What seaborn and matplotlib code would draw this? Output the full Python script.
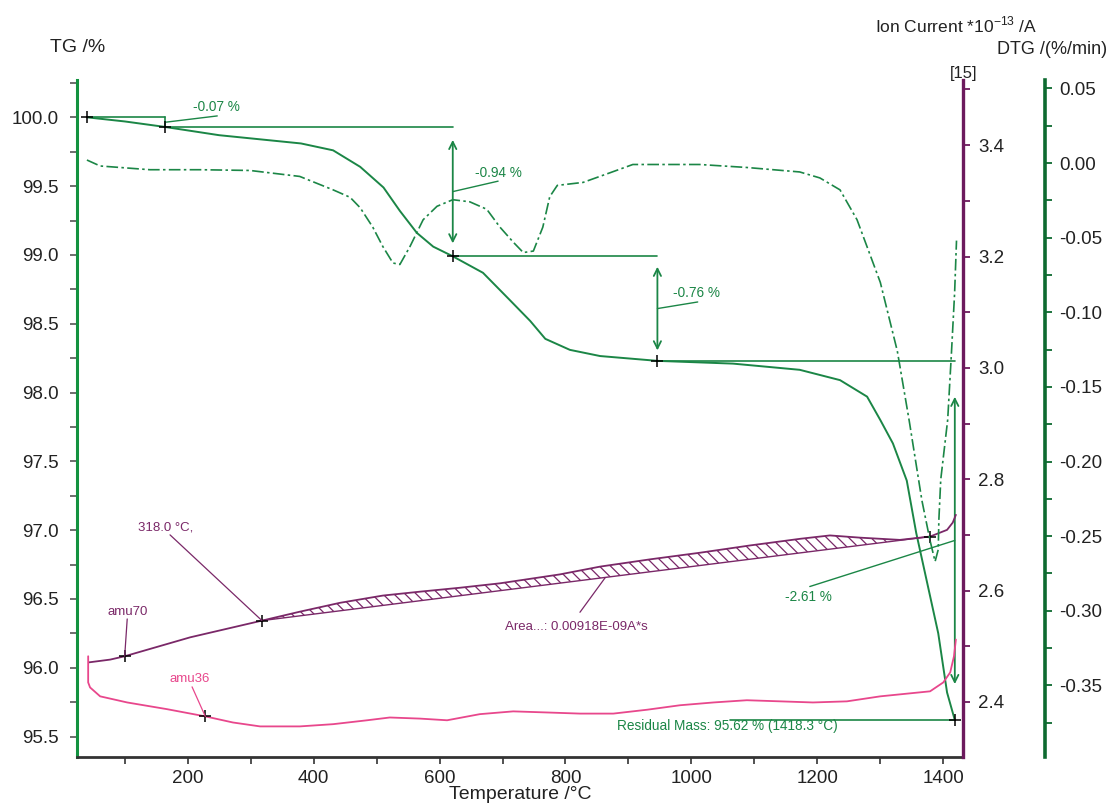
import numpy as np
import matplotlib
matplotlib.use("Agg")
import matplotlib.pyplot as plt
import seaborn as sns
from matplotlib.ticker import MultipleLocator, FormatStrFormatter

# ---- measured curves -------------------------------------------------------
# TG mass curve (%)
temp_tg = [40, 100, 164, 250, 380, 431, 474, 511, 537, 564, 590, 621, 669, 712,
           744, 768, 807, 855, 946, 1066, 1172, 1236, 1279, 1300, 1320, 1342,
           1357, 1392, 1406, 1418.3]
tg = [100.00, 99.97, 99.93, 99.87, 99.81, 99.76, 99.64, 99.49, 99.32, 99.16,
      99.06, 98.99, 98.87, 98.67, 98.52, 98.39, 98.31, 98.265, 98.23, 98.21,
      98.165, 98.09, 97.97, 97.80, 97.63, 97.36, 96.98, 96.25, 95.82, 95.62]

# DTG curve (%/min)
temp_dtg = [40, 61, 140, 220, 299, 378, 431, 458, 474, 494, 510, 526, 537, 553,
            574, 596, 621, 648, 675, 696, 717, 733, 749, 764, 775, 787, 828,
            871, 907, 961, 1013, 1088, 1172, 1204, 1236, 1263, 1300, 1327, 1346,
            1366, 1379, 1387, 1392, 1393, 1396, 1407, 1413, 1418, 1421]
dtg = [0.002, -0.002, -0.0045, -0.0045, -0.005, -0.009, -0.018, -0.023, -0.030,
       -0.043, -0.056, -0.067, -0.068, -0.056, -0.038, -0.029, -0.0246, -0.026,
       -0.031, -0.043, -0.053, -0.060, -0.059, -0.043, -0.0226, -0.015, -0.013,
       -0.0065, -0.001, -0.001, -0.001, -0.003, -0.006, -0.010, -0.018, -0.038,
       -0.080, -0.126, -0.173, -0.226, -0.253, -0.267, -0.259, -0.239, -0.212,
       -0.172, -0.127, -0.087, -0.052]

# ion current, m/z 70 and m/z 36 (*1e-13 A)
temp_70 = [43, 77, 100, 204, 318, 378, 442, 510, 569, 632, 696, 791, 855, 934,
           1014, 1093, 1173, 1220, 1268, 1331, 1379, 1406, 1415, 1420]
amu70 = [2.471, 2.476, 2.482, 2.516, 2.546, 2.562, 2.578, 2.591, 2.598, 2.605,
         2.613, 2.629, 2.643, 2.656, 2.668, 2.681, 2.693, 2.699, 2.695, 2.691,
         2.697, 2.709, 2.722, 2.736]

temp_36 = [42, 42, 45, 61, 104, 167, 228, 272, 315, 378, 431, 485, 521, 569, 612,
           664, 717, 771, 823, 876, 930, 982, 1035, 1088, 1141, 1193, 1247, 1300,
           1379, 1400, 1411, 1417, 1420]
amu36 = [2.482, 2.435, 2.426, 2.410, 2.399, 2.387, 2.374, 2.363, 2.356, 2.356,
         2.360, 2.367, 2.372, 2.370, 2.367, 2.378, 2.383, 2.381, 2.379, 2.379,
         2.386, 2.394, 2.399, 2.403, 2.401, 2.399, 2.401, 2.410, 2.419, 2.435,
         2.453, 2.482, 2.512]

# ---- evaluation results ----------------------------------------------------
start_mass = 100.00
step_temps = [40, 164, 621, 946, 1418.3]
mass_steps = [-0.07, -0.94, -0.76, -2.61]
step_labels = ["-0.07 %", "-0.94 %", "-0.76 %", "-2.61 %"]
residual_text = "Residual Mass: 95.62 % (1418.3 °C)"
peak_area_text = "Area...: 0.00918E-09A*s"
area_limits = [318.0, 1379]
amu70_mark = 100
amu36_mark = 228

# ---- style -----------------------------------------------------------------
GREEN = "#1b8646"
GREEN_AX = "#12923f"
GREEN_DTG = "#0e6a30"
PURPLE = "#6c1a5d"
PURPLE_LINE = "#7a2868"
PINK = "#e8478c"
GREY = "#333333"

sns.set_theme(style="white")
plt.rcParams["font.family"] = ["Liberation Sans", "DejaVu Sans"]
plt.rcParams["axes.unicode_minus"] = False
plt.rcParams["mathtext.fontset"] = "custom"
plt.rcParams["mathtext.rm"] = "Liberation Sans"
plt.rcParams["hatch.linewidth"] = 0.9

fig = plt.figure(figsize=(11.09, 8.05), dpi=100)
ax = fig.add_axes([0.0694, 0.0596, 0.799, 0.841])
ax_ms = ax.twinx()
ax_dtg = ax.twinx()

# ---- curves ----------------------------------------------------------------
sns.lineplot(x=temp_tg, y=tg, ax=ax, color=GREEN, lw=1.4,
             estimator=None, sort=False)
sns.lineplot(x=temp_dtg, y=dtg, ax=ax_dtg, color=GREEN, lw=1.2,
             linestyle=(0, (7, 2, 1.5, 2)), estimator=None, sort=False)
sns.lineplot(x=temp_70, y=amu70, ax=ax_ms, color=PURPLE_LINE, lw=1.3,
             estimator=None, sort=False)
sns.lineplot(x=temp_36, y=amu36, ax=ax_ms, color=PINK, lw=1.3,
             estimator=None, sort=False)

# hatched peak area on m/z 70 above a straight baseline
t70 = np.array(temp_70, dtype=float)
a70 = np.array(amu70)
a_lo, a_hi = np.interp(area_limits, t70, a70)
sel = (t70 >= area_limits[0]) & (t70 <= area_limits[1])
xs = t70[sel]
base = np.interp(xs, area_limits, [a_lo, a_hi])
ax_ms.fill_between(xs, base, a70[sel], where=a70[sel] >= base, interpolate=True,
                   facecolor="none", edgecolor=PURPLE_LINE, hatch="\\\\\\", lw=0)
ax_ms.plot(area_limits, [a_lo, a_hi], color=PURPLE_LINE, lw=1.0)
ax_ms.plot(area_limits, [a_lo, a_hi], "+", color="black", ms=9, mew=1.1)
a_mark70 = np.interp(amu70_mark, t70, a70)
a_mark36 = np.interp(amu36_mark, temp_36[2:], amu36[2:])
ax_ms.plot([amu70_mark], [a_mark70], "+", color="black", ms=9, mew=1.1)
ax_ms.plot([amu36_mark], [a_mark36], "+", color="black", ms=9, mew=1.1)

# ion-current labels with leaders
ax_ms.text(104, 2.562, "amu70", color=PURPLE_LINE, fontsize=9.5,
           ha="center", va="center")
ax_ms.plot([104, amu70_mark], [2.549, a_mark70], color=PURPLE_LINE, lw=0.9)
ax_ms.text(121, 2.713, "318.0 °C,", color=PURPLE_LINE, fontsize=9.5,
           ha="left", va="center")
ax_ms.plot([172, area_limits[0]], [2.700, a_lo], color=PURPLE_LINE, lw=0.9)
ax_ms.text(704, 2.535, peak_area_text, color=PURPLE_LINE, fontsize=9.5,
           ha="left", va="center")
ax_ms.plot([823, 863], [2.561, 2.623], color=PURPLE_LINE, lw=0.9)
ax_ms.text(204, 2.441, "amu36", color=PINK, fontsize=9.5,
           ha="center", va="center")
ax_ms.plot([207, amu36_mark], [2.427, a_mark36], color=PINK, lw=0.9)

# ---- mass-step evaluation --------------------------------------------------
levels = start_mass + np.concatenate([[0], np.cumsum(mass_steps)])
ax.plot(step_temps, levels, "+", color="black", ms=9, mew=1.1, zorder=5)

leader_ends = [(247, 100.01), (693, 99.536), (1010, 98.658), (1188, 96.59)]
label_pos = [(208, 100.075), (656, 99.594), (971, 98.72), (1149, 96.515)]

for i, step in enumerate(mass_steps):
    t0, t1 = step_temps[i], step_temps[i + 1]
    hi, lo = levels[i], levels[i + 1]
    ax.plot([t0, t1], [hi, hi], color=GREEN, lw=1.2)
    if i == 0:
        ax.plot([t1, t1], [hi, lo], color=GREEN, lw=1.2)
        lead_start = (t1 + 2, (hi + lo) / 2)
    else:
        gap = 0.1 * abs(step)
        ax.annotate("", xy=(t1, lo + gap), xytext=(t1, hi - gap),
                    arrowprops=dict(arrowstyle="<->", color=GREEN, lw=1.3,
                                    shrinkA=0, shrinkB=0, mutation_scale=13))
        lead_start = (t1, (hi + lo) / 2)
    ex, ey = leader_ends[i]
    ax.plot([lead_start[0], ex], [lead_start[1], ey], color=GREEN, lw=1.0)
    lx, ly = label_pos[i]
    ax.text(lx, ly, step_labels[i], color=GREEN, fontsize=9.8,
            ha="left", va="center")

ax.plot([1062, step_temps[-1]], [levels[-1], levels[-1]], color=GREEN, lw=1.2)
ax.text(882, 95.577, residual_text, color=GREEN, fontsize=9.8,
        ha="left", va="center")

# ---- axes ------------------------------------------------------------------
ax.set_xlim(24.2, 1431.4)
ax.set_ylim(95.351, 100.271)
ax_ms.set_ylim(2.301, 3.517)
ax_dtg.set_ylim(-0.398, 0.0556)

ax.xaxis.set_major_locator(MultipleLocator(200))
ax.xaxis.set_minor_locator(MultipleLocator(100))
ax.yaxis.set_major_locator(MultipleLocator(0.5))
ax.yaxis.set_minor_locator(MultipleLocator(0.25))
ax.yaxis.set_major_formatter(FormatStrFormatter("%.1f"))
ax_ms.yaxis.set_major_locator(MultipleLocator(0.2))
ax_ms.yaxis.set_minor_locator(MultipleLocator(0.1))
ax_ms.yaxis.set_major_formatter(FormatStrFormatter("%.1f"))
ax_dtg.yaxis.set_major_locator(MultipleLocator(0.05))
ax_dtg.yaxis.set_minor_locator(MultipleLocator(0.025))
ax_dtg.yaxis.set_major_formatter(FormatStrFormatter("%.2f"))

for a in (ax, ax_ms, ax_dtg):
    a.set_xlabel("")
    a.set_ylabel("")
    a.grid(False)
    for s in a.spines.values():
        s.set_visible(False)

ax.spines["left"].set_visible(True)
ax.spines["left"].set_color(GREEN_AX)
ax.spines["left"].set_linewidth(2.2)
ax.spines["bottom"].set_visible(True)
ax.spines["bottom"].set_color(GREY)
ax.spines["bottom"].set_linewidth(2.0)
ax_ms.spines["right"].set_visible(True)
ax_ms.spines["right"].set_color(PURPLE)
ax_ms.spines["right"].set_linewidth(2.4)
ax_dtg.spines["right"].set_visible(True)
ax_dtg.spines["right"].set_color(GREEN_DTG)
ax_dtg.spines["right"].set_linewidth(2.6)
# 82 px to the right of the ion-current spine (points at 100 dpi)
ax_dtg.spines["right"].set_position(("outward", 82 * 72 / 100))

ax.tick_params(axis="x", which="both", direction="out", bottom=True,
               length=5, width=1.2, color=GREY, labelsize=13.5, pad=4,
               labelcolor="#222222")
ax.tick_params(axis="y", which="both", direction="out", left=True,
               length=5, width=1.2, color="#555555", labelsize=13.5, pad=8,
               labelcolor="#222222")
ax_ms.tick_params(axis="y", which="both", direction="out", right=True,
                  length=5, width=1.3, color=PURPLE, labelsize=13.5, pad=6,
                  labelcolor="#222222")
ax_dtg.tick_params(axis="y", which="both", direction="out", right=True,
                   length=5, width=1.3, color=GREEN_DTG, labelsize=13.5, pad=5,
                   labelcolor="#222222")

fig.text(0.4689, 0.0075, "Temperature /°C", fontsize=14, color="#222222",
         ha="center", va="baseline")
fig.text(0.045, 0.9416, "TG /%", fontsize=14, color="#222222",
         ha="left", va="center")
fig.text(0.789, 0.969, r"Ion Current *10$^{\mathrm{-13}}$ /A", fontsize=12.5,
         color="#222222", ha="left", va="center")
fig.text(0.998, 0.939, "DTG /(%/min)", fontsize=13, color="#222222",
         ha="right", va="center")
fig.text(0.869, 0.909, "[15]", fontsize=12, color="#222222",
         ha="center", va="center")

fig.savefig("out.png", dpi=100)
